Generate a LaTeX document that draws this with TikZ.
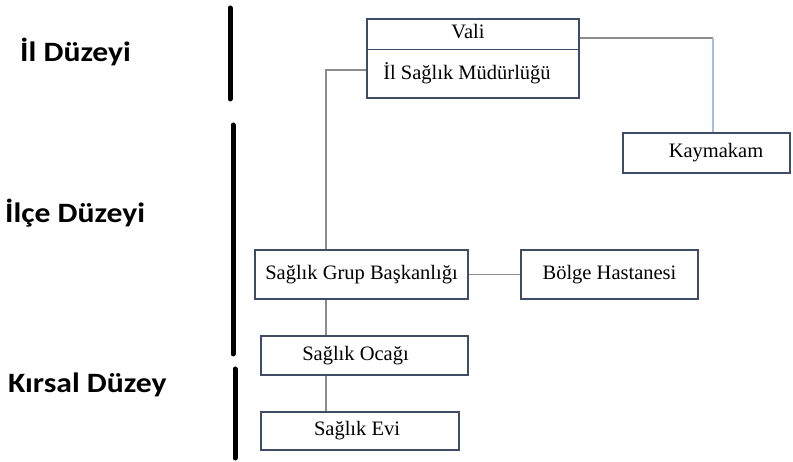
\documentclass[tikz,border=0pt]{standalone}
\usepackage{fontspec}
\setmainfont{Liberation Serif}
\newfontfamily\labfont{Carlito}
\usetikzlibrary{calc}
\definecolor{boxc}{HTML}{3E4C66}
\definecolor{linec}{HTML}{8C8C8C}
\definecolor{bluec}{HTML}{A3BEDF}
\newcommand{\bt}{\fontsize{20.5}{24}\selectfont}
\newcommand{\lv}[1]{\scalebox{1.13}[1]{#1}}
\begin{document}
\begin{tikzpicture}[x=1pt,y=-1pt,
  box/.style={draw=boxc,line width=1.3pt,rectangle,inner sep=0pt,font=\bt},
  conn/.style={draw=linec,line width=1.2pt},
  lvl/.style={font=\labfont\bfseries\fontsize{28}{32}\selectfont,anchor=west,inner sep=0pt},
  bar/.style={line width=5pt,line cap=round}]
\useasboundingbox (0,0) rectangle (793,462);
% boxes
\node[box,minimum width=212pt,minimum height=79pt] (ism) at (473,58.5) {};
\node[font=\bt,inner sep=0pt] (vali) at (468,32) {Vali};
\node[font=\bt,inner sep=0pt] (ilsm) at (467,73) {İl Sağlık Müdürlüğü};
\draw[boxc,line width=1pt] (ism.west |- 0,50) -- (ism.east |- 0,50);
\node[box,minimum width=167pt,minimum height=40pt] (kay) at (706.5,153) {\hspace*{19pt}Kaymakam};
\node[box,minimum width=213pt,minimum height=49pt] (sgb) at (361.5,274.5) {Sağlık Grup Başkanlığı};
\node[box,minimum width=177pt,minimum height=49pt] (bh) at (609.5,274.5) {Bölge Hastanesi};
\node[box,minimum width=207pt,minimum height=39pt] (so) at (364.5,355.5) {Sağlık Ocağı\hspace*{18pt}};
\node[box,minimum width=198pt,minimum height=38pt] (se) at (360,431) {Sağlık Evi\hspace*{6pt}};
% connectors
\coordinate (k1) at (713,38);
\coordinate (c1) at (326,70);
\draw[conn] (ism.east |- k1) -- (k1);
\draw[draw=bluec,line width=1.2pt] (k1) -- (k1 |- kay.north);
\draw[conn] (ism.west |- c1) -- (c1) -- (c1 |- sgb.north);
\draw[conn] (sgb.east) -- (bh.west);
\draw[conn] (sgb.south -| c1) -- (so.north -| c1);
\draw[conn] (so.south -| c1) -- (se.north -| c1);
% level labels
\node[lvl] (l1) at (20,52) {\lv{İl Düzeyi}};
\node[lvl] (l2) at (5,213) {\lv{İlçe Düzeyi}};
\node[lvl] (l3) at (8,385) {\lv{Kırsal Düzey}};
\draw[bar] (230,8) -- (230,99);
\draw[bar] (233,125) -- (233,354);
\draw[bar] (235,369) -- (235,458);
\end{tikzpicture}
\end{document}
